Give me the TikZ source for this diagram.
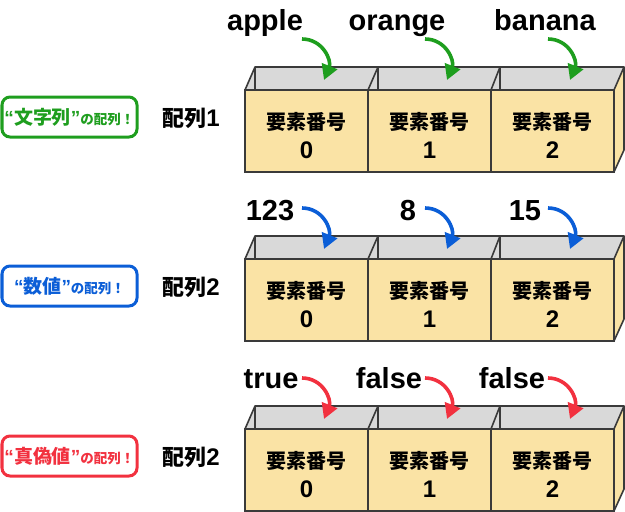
\documentclass[tikz,border=0pt]{standalone}
\usepackage{fontspec}
\setmainfont{Noto Sans CJK JP}
\newfontfamily\lat{Liberation Sans}
\usetikzlibrary{arrows.meta}
\definecolor{gGreen}{HTML}{1E9E1E}
\definecolor{gBlue}{HTML}{0B5ED7}
\definecolor{gRed}{HTML}{F2313F}
\definecolor{boxYel}{HTML}{FAE3A5}
\definecolor{topGray}{HTML}{D9D9D9}
\definecolor{edgeCol}{HTML}{3A3A3A}
\tikzset{
  val/.style={font=\lat\bfseries\fontsize{29}{29}\selectfont, inner sep=0pt, anchor=base},
  cellj/.style={font=\bfseries\fontsize{20}{20}\selectfont, inner sep=0pt},
  celld/.style={font=\lat\bfseries\fontsize{24}{24}\selectfont, inner sep=0pt},
  cellbox/.style={draw=edgeCol, line width=1.6pt, fill=boxYel, minimum width=123pt, minimum height=82pt, inner sep=0pt},
  edgeline/.style={draw=edgeCol, line width=1.6pt, line join=round},
  tagbox/.style={draw=#1, line width=3pt, rounded corners=8pt, fill=white, minimum width=135pt, minimum height=40pt, inner sep=0pt, text=#1, font=\bfseries},
  arrname/.style={font=\bfseries\fontsize{22}{22}\selectfont, inner sep=0pt},
  putarrow/.style={draw=#1, line width=3.6pt, -{Triangle[length=15pt,width=16pt]}}
}
\begin{document}
\begin{tikzpicture}[x=1pt,y=-1pt]
\useasboundingbox (0,0) rectangle (625,512);
\foreach \r/\T/\col/\lab/\name/\ly/\va/\xa/\vb/\xb/\vc/\xc in {
  1/67/gGreen/文字列/1/30/apple/265/orange/397/banana/545,
  2/236/gBlue/数値/2/220/123/270/8/408/15/525,
  3/406/gRed/真偽値/2/388/true/271/false/389/false/512}{
  % top face
  \fill[topGray] (245,\T+23) -- (255,\T) -- (624,\T) -- (614,\T+23) -- cycle;
  % right face
  \filldraw[fill=boxYel, edgeline] (614,\T+23) -- (624,\T) -- (624,\T+83) -- (614,\T+105) -- cycle;
  % top outline
  \draw[edgeline] (245,\T+23) -- (255,\T) -- (624,\T);
  \draw[edgeline] (255,\T) -- (255,\T+23);
  \draw[edgeline] (368,\T+23) -- (378,\T) -- (378,\T+23);
  \draw[edgeline] (491,\T+23) -- (500,\T) -- (500,\T+23);
  % front cells
  \foreach \c/\cx in {0/306.5,1/429.5,2/552.5}{
    \node[cellbox] (cell\r\c) at (\cx,\T+64) {};
    \node[cellj] (idx\r\c) at (\cx,\T+55) {要素番号};
    \node[celld] (num\r\c) at (\cx,\T+83) {\c};
    \coordinate (from\r\c) at (302+123*\c,\T-28);
    \coordinate (to\r\c) at (324+123*\c,\T+13);
    \draw[putarrow=\col] (from\r\c) to[out=0,in=68,looseness=1.15] (to\r\c);
  }
  % values
  \node[val] (va\r) at (\xa,\ly) {\va};
  \node[val] (vb\r) at (\xb,\ly) {\vb};
  \node[val] (vc\r) at (\xc,\ly) {\vc};
  % left tag
  \node[tagbox=\col] (tag\r) at (69.5,\T+50) {{\lat\fontsize{19}{19}\selectfont “}{\fontsize{19}{19}\selectfont\lab}{\lat\fontsize{19}{19}\selectfont ”}{\fontsize{13.5}{13.5}\selectfont の配列！}};
  \node[arrname] (arr\r) at (191,\T+51) {配列{\lat\fontsize{24}{24}\selectfont\name}};
}
\end{tikzpicture}
\end{document}
